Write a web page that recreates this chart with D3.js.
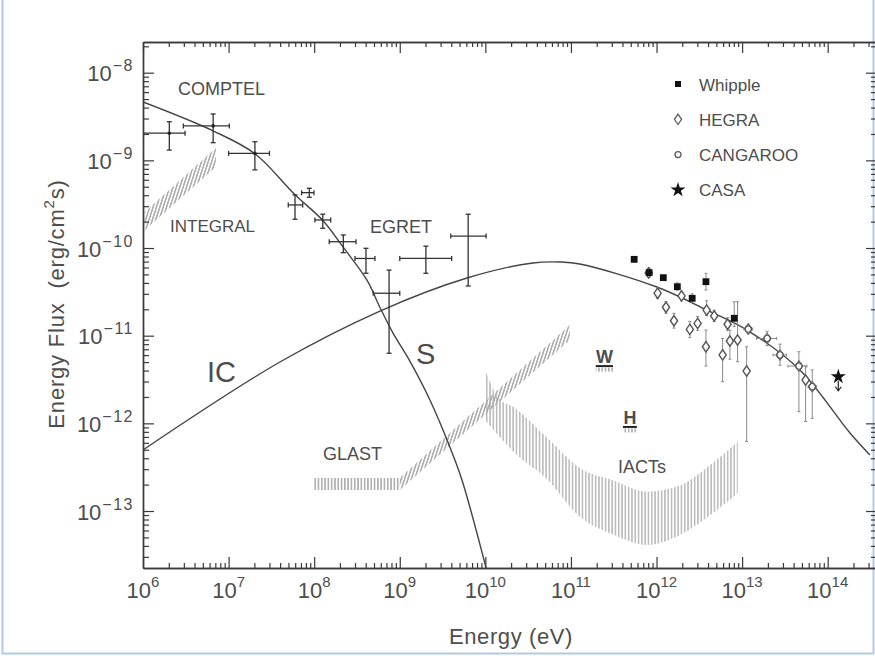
<!DOCTYPE html>
<html>
<head>
<meta charset="utf-8">
<script src="https://cdn.jsdelivr.net/npm/d3@7"></script>
<style>
  body { margin: 0; background: #fff; }
  svg text { font-family: "Liberation Sans", Arial, Helvetica, sans-serif; fill: #4d4d4d; }
</style>
</head>
<body>
<svg id="chart" width="875" height="656"></svg>
<script>
// ---- axis set-up -------------------------------------------------------
const xDomain = [1e6, Math.pow(10, 14.576)];
const yDomain = [Math.pow(10, -13.65), Math.pow(10, -7.65)];
const xMajorExp = [6, 7, 8, 9, 10, 11, 12, 13, 14];
const yMajorExp = [-8, -9, -10, -11, -12, -13];

// ---- model curves (energy eV, energy flux erg/cm^2/s) -------------------
const syncE = [1e6, 6.58e6, 2.03e7, 5.97e7, 1.27e8, 2.17e8, 4.14e8, 5.87e8, 8.34e8, 1.25e9, 2.25e9, 3.85e9, 5.33e9, 1.02e10];
const syncF = [4.63e-9, 2.17e-9, 1.19e-9, 4.05e-10, 2.05e-10, 1.03e-10, 4.3e-11, 2.1e-11, 1.07e-11, 5.57e-12, 1.85e-12, 5.38e-13, 2.26e-13, 2.24e-14];

const icE = [1e6, 3.98e7, 5.87e8, 6.1e9, 3.6e10, 7.43e10, 1.27e11, 1.01e12, 3.88e12, 1.14e13, 4.73e13, 1.82e14, 3.11e14];
const icF = [4.97e-13, 5.01e-12, 1.91e-11, 4.55e-11, 6.75e-11, 6.93e-11, 6.58e-11, 3.59e-11, 1.96e-11, 1.16e-11, 4.06e-12, 7.76e-13, 4.36e-13];

// ---- sensitivity bands --------------------------------------------------
const integralE  = [1.05e6, 7.1e6];
const integralLo = [1.61e-10, 8.4e-10];
const integralHi = [2.58e-10, 1.38e-9];

const glastFlatE  = [1e8, 1e9];
const glastFlatLo = [1.74e-13, 1.74e-13];
const glastFlatHi = [2.38e-13, 2.38e-13];
const glastRiseE  = [1e9, 9.7e10];
const glastRiseLo = [1.74e-13, 8.9e-12];
const glastRiseHi = [2.38e-13, 1.32e-11];

const iactE  = [9.9e9, 1.48e10, 2.1e10, 5.25e10, 1.27e11, 3.1e11, 7.76e11, 1.86e12, 4.57e12, 8.9e12];
const iactHi = [4.07e-12, 1.86e-12, 1.55e-12, 6.9e-13, 3.1e-13, 2.24e-13, 1.66e-13, 1.95e-13, 3.55e-13, 6.15e-13];
const iactLo = [1.09e-12, 7.0e-13, 4.8e-13, 2.3e-13, 8.6e-14, 5.4e-14, 4.1e-14, 5.3e-14, 9.5e-14, 1.61e-13];

// instrument sensitivity markers: label, E range, flux level
const sensLabels = ["W", "H"];
const sensElo = [1.95e11, 4.05e11];
const sensEhi = [3.1e11, 5.9e11];
const sensF   = [4.5e-12, 9.1e-13];

// ---- measurements ------------------------------------------------------
// [E, F, Elo, Ehi, Flo, Fhi]
const comptel = [
  [2.03e6, 2.04e-9, 1.0e6, 3.1e6, 1.31e-9, 2.76e-9],
  [6.6e6, 2.47e-9, 2.96e6, 1.02e7, 1.59e-9, 3.38e-9],
  [2.03e7, 1.2e-9, 1.0e7, 3.0e7, 7.8e-10, 1.63e-9]
];
const egret = [
  [5.97e7, 3.1e-10, 4.98e7, 7.35e7, 2.13e-10, 4.03e-10],
  [8.77e7, 4.28e-10, 7.14e7, 9.95e7, 3.79e-10, 4.8e-10],
  [1.26e8, 2.09e-10, 1.02e8, 1.56e8, 1.68e-10, 2.43e-10],
  [2.19e8, 1.18e-10, 1.5e8, 3.08e8, 8.85e-11, 1.41e-10],
  [4.03e8, 7.6e-11, 3.0e8, 5.13e8, 5.15e-11, 9.93e-11],
  [7.5e8, 3.05e-11, 4.9e8, 1.0e9, 6.3e-12, 5.6e-11],
  [2.02e9, 7.6e-11, 1.0e9, 4.04e9, 5.15e-11, 1.05e-10],
  [6.3e9, 1.37e-10, 3.94e9, 1.02e10, 3.69e-11, 2.43e-10]
];
// [E, F, Flo, Fhi]
const whipple = [
  [5.48e11, 7.43e-11, 7.43e-11, 7.43e-11],
  [8.2e11, 5.24e-11, 4.7e-11, 5.8e-11],
  [1.2e12, 4.59e-11, 4.59e-11, 4.59e-11],
  [1.75e12, 3.62e-11, 3.3e-11, 4.0e-11],
  [2.61e12, 2.67e-11, 2.4e-11, 3.0e-11],
  [3.78e12, 4.13e-11, 3.32e-11, 5.15e-11],
  [8.09e12, 1.58e-11, 1.27e-11, 2.44e-11]
];
// [E, F, Flo, Fhi, Elo, Ehi]
const hegra = [
  [8.1e11, 5.2e-11, 4.6e-11, 5.9e-11, 8.1e11, 8.1e11],
  [1.03e12, 3.05e-11, 2.65e-11, 3.5e-11, 1.03e12, 1.03e12],
  [1.29e12, 2.11e-11, 1.8e-11, 2.45e-11, 1.29e12, 1.29e12],
  [1.6e12, 1.48e-11, 1.22e-11, 1.8e-11, 1.6e12, 1.6e12],
  [1.96e12, 2.84e-11, 2.5e-11, 3.2e-11, 1.96e12, 1.96e12],
  [2.45e12, 1.18e-11, 9.5e-12, 1.45e-11, 2.45e12, 2.45e12],
  [3.02e12, 1.38e-11, 1.15e-11, 1.65e-11, 3.02e12, 3.02e12],
  [3.85e12, 1.96e-11, 1.7e-11, 2.5e-11, 3.85e12, 3.85e12],
  [4.72e12, 1.68e-11, 1.45e-11, 1.95e-11, 4.72e12, 4.72e12],
  [3.78e12, 7.48e-12, 4.5e-12, 1.16e-11, 3.78e12, 3.78e12],
  [5.92e12, 6.03e-12, 2.99e-12, 9.3e-12, 5.92e12, 5.92e12],
  [6.77e12, 1.35e-11, 1.15e-11, 1.6e-11, 6.77e12, 6.77e12],
  [7.2e12, 8.7e-12, 5.4e-12, 1.16e-11, 7.2e12, 7.2e12],
  [8.85e12, 8.93e-12, 5.05e-12, 2.44e-11, 8.85e12, 8.85e12],
  [1.13e13, 3.95e-12, 6.2e-13, 7.48e-12, 1.13e13, 1.13e13],
  [5.52e13, 3.12e-12, 1.05e-12, 4.5e-12, 5.52e13, 5.52e13]
];
const cangaroo = [
  [1.18e13, 1.19e-11, 1.05e-11, 1.35e-11, 1.05e13, 1.33e13],
  [1.96e13, 9.3e-12, 7.7e-12, 1.12e-11, 1.47e13, 2.53e13],
  [2.77e13, 6.03e-12, 4.6e-12, 8.0e-12, 2.3e13, 3.3e13],
  [4.61e13, 4.5e-12, 1.36e-12, 6.56e-12, 3.43e13, 5.71e13],
  [6.6e13, 2.62e-12, 1.14e-12, 4.07e-12, 5.9e13, 7.4e13]
];
const casa = [[1.33e14, 3.4e-12]];

const legendNames = ["Whipple", "HEGRA", "CANGAROO", "CASA"];

// ---- drawing ------------------------------------------------------------
const svg = d3.select("#chart");
const L = 143, R = 877, T = 42, B = 568;
const x = d3.scaleLog().domain(xDomain).range([L, R]);
const y = d3.scaleLog().domain(yDomain).range([B, T]);
const ink = "#3a3a3a";

// page frame
svg.append("rect").attr("x", 2.5).attr("y", -10).attr("width", 871).attr("height", 663.5)
  .attr("fill", "none").attr("stroke", "#b3c9e6").attr("stroke-width", 2);

const defs = svg.append("defs");
function hatch(id, angle, color, gap) {
  const p = defs.append("pattern").attr("id", id).attr("patternUnits", "userSpaceOnUse")
    .attr("width", gap).attr("height", 20);
  if (angle) p.attr("patternTransform", `rotate(${angle})`);
  p.append("line").attr("x1", gap / 2).attr("x2", gap / 2).attr("y1", 0).attr("y2", 20)
    .attr("stroke", color).attr("stroke-width", 1.3);
}
hatch("hv", 0, "#9a9a9a", 3.3);
hatch("hs", 18, "#9a9a9a", 3.2);
hatch("hi", 0, "#acacac", 3.3);

const clip = defs.append("clipPath").attr("id", "plotclip");
clip.append("rect").attr("x", L).attr("y", T).attr("width", R - L).attr("height", B - T);

const plot = svg.append("g").attr("clip-path", "url(#plotclip)");

function band(E, lo, hi, fill, curve) {
  const a = d3.area().x(i => x(E[i])).y0(i => y(lo[i])).y1(i => y(hi[i]))
    .curve(curve || d3.curveLinear);
  plot.append("path").attr("d", a(d3.range(E.length))).attr("fill", `url(#${fill})`);
}
band(integralE, integralLo, integralHi, "hs");
band(glastFlatE, glastFlatLo, glastFlatHi, "hv");
band(glastRiseE, glastRiseLo, glastRiseHi, "hs");
band(iactE, iactLo, iactHi, "hi", d3.curveMonotoneX);

// model curves
const curveLine = d3.line().x(d => x(d[0])).y(d => y(d[1])).curve(d3.curveCatmullRom.alpha(0.5));
plot.append("path").attr("d", curveLine(d3.zip(syncE, syncF)))
  .attr("fill", "none").attr("stroke", "#444").attr("stroke-width", 1.4);
plot.append("path").attr("d", curveLine(d3.zip(icE, icF)))
  .attr("fill", "none").attr("stroke", "#444").attr("stroke-width", 1.4);

// error-bar crosses for satellite data
function cross(g, d, cap, color, w) {
  const cx = x(d[0]), cy = y(d[1]);
  const x0 = x(d[2]), x1 = x(d[3]), y0 = y(d[4]), y1 = y(d[5]);
  const segs = [[x0, cy, x1, cy], [cx, y0, cx, y1],
    [x0, cy - cap, x0, cy + cap], [x1, cy - cap, x1, cy + cap],
    [cx - cap, y0, cx + cap, y0], [cx - cap, y1, cx + cap, y1]];
  segs.forEach(s => g.append("line").attr("x1", s[0]).attr("y1", s[1]).attr("x2", s[2]).attr("y2", s[3])
    .attr("stroke", color).attr("stroke-width", w));
}
const gSat = plot.append("g");
comptel.forEach(d => {
  cross(gSat, d, 2.5, "#333", 1.3);
  gSat.append("circle").attr("cx", x(d[0])).attr("cy", y(d[1])).attr("r", 1.8).attr("fill", "#222");
});
egret.forEach(d => cross(gSat, d, 2.5, "#333", 1.3));

// ground-based data
const gV = plot.append("g");
function vbar(E, lo, hi) {
  if (lo === hi) return;
  const cx = x(E);
  gV.append("line").attr("x1", cx).attr("x2", cx).attr("y1", y(lo)).attr("y2", y(hi))
    .attr("stroke", "#8a8a8a").attr("stroke-width", 1);
  [lo, hi].forEach(v => gV.append("line").attr("x1", cx - 1.5).attr("x2", cx + 1.5)
    .attr("y1", y(v)).attr("y2", y(v)).attr("stroke", "#8a8a8a").attr("stroke-width", 1));
}
function hbar(E0, E1, F) {
  if (E0 === E1) return;
  gV.append("line").attr("x1", x(E0)).attr("x2", x(E1)).attr("y1", y(F)).attr("y2", y(F))
    .attr("stroke", "#8a8a8a").attr("stroke-width", 1);
  [E0, E1].forEach(v => gV.append("line").attr("x1", x(v)).attr("x2", x(v))
    .attr("y1", y(F) - 1.5).attr("y2", y(F) + 1.5).attr("stroke", "#8a8a8a").attr("stroke-width", 1));
}
const diamond = (cx, cy) => `M${cx},${cy - 5.2}L${cx + 3.6},${cy}L${cx},${cy + 5.2}L${cx - 3.6},${cy}Z`;

hegra.forEach(d => { vbar(d[0], d[2], d[3]); hbar(d[4], d[5], d[1]); });
cangaroo.forEach(d => { vbar(d[0], d[2], d[3]); hbar(d[4], d[5], d[1]); });
whipple.forEach(d => vbar(d[0], d[2], d[3]));

hegra.forEach(d => gV.append("path").attr("d", diamond(x(d[0]), y(d[1])))
  .attr("fill", "#fff").attr("stroke", "#555").attr("stroke-width", 1.4));
cangaroo.forEach(d => {
  gV.append("path").attr("d", diamond(x(d[0]), y(d[1])))
    .attr("fill", "#fff").attr("stroke", "#666").attr("stroke-width", 1.2);
  gV.append("circle").attr("cx", x(d[0])).attr("cy", y(d[1])).attr("r", 3.2)
    .attr("fill", "none").attr("stroke", "#555").attr("stroke-width", 1.1);
});
whipple.forEach(d => gV.append("rect").attr("x", x(d[0]) - 3.4).attr("y", y(d[1]) - 3.4)
  .attr("width", 6.8).attr("height", 6.8).attr("fill", "#111"));

const star = d3.symbol().type(d3.symbolStar).size(70);
casa.forEach(d => {
  const cx = x(d[0]), cy = y(d[1]);
  gV.append("path").attr("d", star()).attr("transform", `translate(${cx},${cy})`).attr("fill", "#111");
  gV.append("line").attr("x1", cx).attr("x2", cx).attr("y1", cy + 4).attr("y2", cy + 14)
    .attr("stroke", "#222").attr("stroke-width", 1.2);
  gV.append("path").attr("d", `M${cx - 3},${cy + 10}L${cx},${cy + 14}L${cx + 3},${cy + 10}`)
    .attr("fill", "none").attr("stroke", "#222").attr("stroke-width", 1.2);
});

// sensitivity markers
sensLabels.forEach((lab, i) => {
  const x0 = x(sensElo[i]), x1 = x(sensEhi[i]), yy = y(sensF[i]);
  plot.append("line").attr("x1", x0).attr("x2", x1).attr("y1", yy).attr("y2", yy)
    .attr("stroke", "#222").attr("stroke-width", 2);
  plot.append("rect").attr("x", x0).attr("y", yy + 1.5).attr("width", x1 - x0).attr("height", 4)
    .attr("fill", "url(#hv)");
  svg.append("text").attr("x", (x0 + x1) / 2).attr("y", yy - 3).attr("text-anchor", "middle")
    .attr("font-size", 18).attr("font-weight", "bold").attr("fill", "#333").text(lab);
});

// ---- axes ---------------------------------------------------------------
function minors(lo, hi) {
  const out = [];
  for (let e = lo; e <= hi; e++) for (let m = 2; m <= 9; m++) out.push(m * Math.pow(10, e));
  return out;
}
const xMinor = minors(6, 14).filter(v => v <= xDomain[1]);
const yMinor = minors(-14, -8).filter(v => v >= yDomain[0] && v <= yDomain[1]);
const xMajor = xMajorExp.map(e => Math.pow(10, e));
const yMajor = yMajorExp.map(e => Math.pow(10, e));

function styleAxis(g) {
  g.selectAll("path.domain").attr("stroke", ink).attr("stroke-width", 1.4);
  g.selectAll(".tick line").attr("stroke", ink).attr("stroke-width", 1.2);
  g.selectAll(".tick text").remove();
}
const axes = [
  [d3.axisBottom(x), `translate(0,${B})`, xMajor, xMinor, 5],
  [d3.axisTop(x), `translate(0,${T})`, xMajor, xMinor, 5],
  [d3.axisLeft(y), `translate(${L},0)`, yMajor, yMinor, 6],
  [d3.axisRight(y), `translate(${R},0)`, yMajor, yMinor, 6]
];
axes.forEach(([ax, tr, maj, min, ms]) => {
  svg.append("g").attr("transform", tr)
    .call(ax.tickValues(min).tickSize(-ms).tickSizeOuter(0).tickFormat("")).call(styleAxis);
  svg.append("g").attr("transform", tr)
    .call(ax.tickValues(maj).tickSize(-11).tickSizeOuter(0).tickFormat("")).call(styleAxis);
});

// tick labels with superscript exponents
xMajorExp.forEach(e => {
  const t = svg.append("text").attr("x", x(Math.pow(10, e))).attr("y", 598)
    .attr("text-anchor", "middle").attr("font-size", 22);
  t.append("tspan").text("10");
  t.append("tspan").attr("font-size", 15).attr("dy", -11).text(String(e));
});
yMajorExp.forEach(e => {
  const t = svg.append("text").attr("x", 134).attr("y", y(Math.pow(10, e)) + 8.5)
    .attr("text-anchor", "end").attr("font-size", 22);
  t.append("tspan").text("10");
  t.append("tspan").attr("font-size", 16).attr("dy", -10).attr("dx", 1).attr("letter-spacing", 1.5)
    .text("\u2212" + (-e));
});

// axis titles
svg.append("text").attr("x", 511).attr("y", 644).attr("text-anchor", "middle")
  .attr("font-size", 22).attr("letter-spacing", 0.6).text("Energy (eV)");
const yt = svg.append("text").attr("transform", "translate(64,304) rotate(-90)")
  .attr("text-anchor", "middle").attr("font-size", 22).attr("letter-spacing", 0.8);
yt.append("tspan").text("Energy Flux\u00a0\u00a0(erg/cm");
yt.append("tspan").attr("font-size", 15).attr("dy", -10).text("2");
yt.append("tspan").attr("dy", 10).text("s)");

// annotations
const notes = [
  ["COMPTEL", 178, 95, 18], ["INTEGRAL", 170, 232, 17], ["EGRET", 370, 233, 18],
  ["GLAST", 323, 460, 18], ["IACTs", 618, 473, 18], ["IC", 207, 382, 29], ["S", 416, 364, 29]
];
notes.forEach(([s, tx, ty, fs]) => svg.append("text").attr("x", tx).attr("y", ty)
  .attr("font-size", fs).text(s));

// legend
const lg = svg.append("g");
const lx = 678, ly0 = 84, ldy = 35.3;
legendNames.forEach((n, i) => {
  const cy = ly0 + i * ldy;
  lg.append("text").attr("x", 699).attr("y", cy + 6.5).attr("font-size", 17).text(n);
  if (i === 0) lg.append("rect").attr("x", lx - 3).attr("y", cy - 3).attr("width", 6).attr("height", 6).attr("fill", "#111");
  if (i === 1) lg.append("path").attr("d", diamond(lx, cy)).attr("fill", "#fff").attr("stroke", "#555").attr("stroke-width", 1.2);
  if (i === 2) lg.append("circle").attr("cx", lx).attr("cy", cy).attr("r", 3).attr("fill", "none").attr("stroke", "#555").attr("stroke-width", 1.2);
  if (i === 3) lg.append("path").attr("d", star()).attr("transform", `translate(${lx},${cy})`).attr("fill", "#111");
});
</script>
</body>
</html>
